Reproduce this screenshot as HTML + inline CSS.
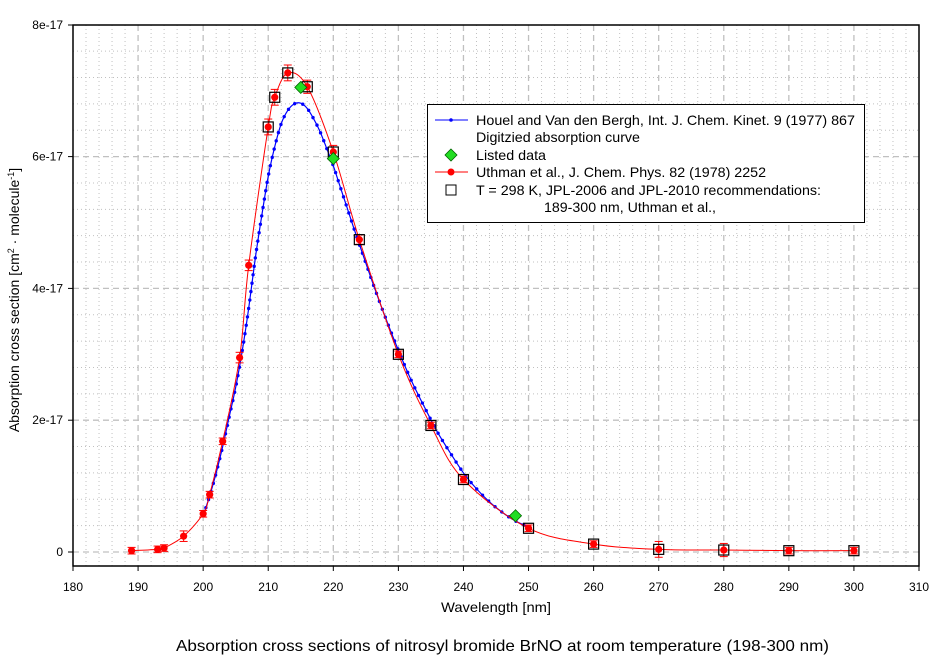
<!DOCTYPE html>
<html><head><meta charset="utf-8"><style>
html,body{margin:0;padding:0;background:#fff;}
svg{display:block;font-family:"Liberation Sans",Arial,sans-serif;}
</style></head><body>
<svg id="s" width="944" height="659" xmlns="http://www.w3.org/2000/svg">
<rect width="944" height="659" fill="#fff"/>
<g id="grid"></g>
<g id="data"></g>
<rect x="73" y="25" width="846" height="541" fill="none" stroke="#000" stroke-width="1.5"/>
<g id="ticks" font-size="12"></g>
<text x="441" y="612" font-size="14" textLength="110" lengthAdjust="spacingAndGlyphs">Wavelength [nm]</text>
<text transform="translate(19,300) rotate(-90)" font-size="14" text-anchor="middle">Absorption cross section [cm<tspan dy="-5" font-size="9">2</tspan><tspan dy="5"> · molecule</tspan><tspan dy="-5" font-size="9">-1</tspan><tspan dy="5">]</tspan></text>
<text x="176" y="651" font-size="16" textLength="653" lengthAdjust="spacingAndGlyphs">Absorption cross sections of nitrosyl bromide BrNO at room temperature (198-300 nm)</text>
<g font-size="14">
<rect x="427.5" y="104.5" width="437" height="118" fill="#fff" stroke="#000" stroke-width="1"/>
<line x1="435" y1="120" x2="468" y2="120" stroke="#0000ff"/><circle cx="451" cy="120" r="1.8" fill="#0000ff"/>
<text x="476" y="125" textLength="379" lengthAdjust="spacingAndGlyphs">Houel and Van den Bergh, Int. J. Chem. Kinet. 9 (1977) 867</text>
<text x="476" y="142" textLength="164" lengthAdjust="spacingAndGlyphs">Digitzied absorption curve</text>
<polygon points="451,149 457,155 451,161 445,155" fill="#22dd22" stroke="#006600" stroke-width="0.8"/>
<text x="476" y="160" textLength="70" lengthAdjust="spacingAndGlyphs">Listed data</text>
<line x1="435" y1="172" x2="468" y2="172" stroke="#ff0000"/><circle cx="451" cy="172" r="3.5" fill="#ff0000"/>
<text x="476" y="177" textLength="290" lengthAdjust="spacingAndGlyphs">Uthman et al., J. Chem. Phys. 82 (1978) 2252</text>
<rect x="446" y="185" width="10" height="10" fill="none" stroke="#000"/>
<text x="476" y="195" textLength="345" lengthAdjust="spacingAndGlyphs">T = 298 K, JPL-2006 and JPL-2010 recommendations:</text>
<text x="544" y="212" textLength="172" lengthAdjust="spacingAndGlyphs">189-300 nm, Uthman et al.,</text>
</g>
</svg>
<script>
var NS="http://www.w3.org/2000/svg";
function X(w){return 73+(w-180)*846/130;}
function Y(v){return 552-v*65.9;}
function el(p,t,a,txt){var e=document.createElementNS(NS,t);for(var k in a)e.setAttribute(k,a[k]);if(txt!=null)e.textContent=txt;p.appendChild(e);return e;}
var g=document.getElementById('grid'),tk=document.getElementById('ticks'),d=document.getElementById('data');
for(var w=182;w<310;w+=2){var maj=(w%10==0);el(g,'line',{x1:X(w),x2:X(w),y1:25,y2:566,stroke:'#c0c0c0','stroke-width':maj?1.3:1,'stroke-dasharray':maj?'6,4':'1,3'});}
for(var i=1;i<21;i++){var v=i*0.4;var y=Y(v);if(y<=25)continue;var maj=(i%5==0);el(g,'line',{x1:73,x2:919,y1:y,y2:y,stroke:'#c0c0c0','stroke-width':maj?1.3:1,'stroke-dasharray':maj?'6,4':'1,3'});}
el(g,'line',{x1:73,x2:919,y1:552,y2:552,stroke:'#c0c0c0','stroke-width':1.3,'stroke-dasharray':'6,4'});
for(var w=180;w<=310;w+=10){el(tk,'line',{x1:X(w),x2:X(w),y1:566,y2:571,stroke:'#000'});el(tk,'text',{x:X(w),y:591,'text-anchor':'middle'},String(w));}
var yl=['0','2e-17','4e-17','6e-17','8e-17'];
for(var i=0;i<5;i++){var y=Y(i*2);if(i==4)y=25;el(tk,'line',{x1:68,x2:73,y1:y,y2:y,stroke:'#000'});el(tk,'text',{x:63,y:y+4,'text-anchor':'end'},yl[i]);}
function spline(pts){var s='M'+pts[0][0]+','+pts[0][1];for(var i=0;i<pts.length-1;i++){var p0=pts[Math.max(0,i-1)],p1=pts[i],p2=pts[i+1],p3=pts[Math.min(pts.length-1,i+2)];
s+=' C'+(p1[0]+(p2[0]-p0[0])/6)+','+(p1[1]+(p2[1]-p0[1])/6)+' '+(p2[0]-(p3[0]-p1[0])/6)+','+(p2[1]-(p3[1]-p1[1])/6)+' '+p2[0]+','+p2[1];}return s;}
var B=[[200,0.55],[201,0.85],[202,1.2],[203,1.6],[204,2.05],[205,2.5],[206,3.05],[207,3.7],[208,4.45],[209,5.1],[210,5.7],[211,6.15],[212,6.5],[213,6.7],[214,6.8],[215,6.81],[216,6.73],[217,6.57],[218,6.37],[219,6.12],[220,5.86],[221,5.56],[222,5.26],[223,4.96],[224,4.67],[226,4.1],[228,3.56],[230,3.06],[232,2.6],[234,2.2],[236,1.82],[238,1.5],[240,1.2],[242,0.96],[244,0.76],[246,0.6],[248,0.47],[250,0.38]];
var bp=B.map(function(p){return [X(p[0]),Y(p[1])];});
var bpath=el(d,'path',{d:spline(bp),fill:'none',stroke:'#0000ff','stroke-width':1.2});
var L=bpath.getTotalLength();for(var l=0;l<=L;l+=8.5){var pt=bpath.getPointAtLength(l);el(d,'circle',{cx:pt.x,cy:pt.y,r:1.7,fill:'#0000ff'});}
var R=[[189,0.02],[193,0.04],[194,0.06],[197,0.24],[200,0.58],[201,0.87],[203,1.68],[205.6,2.95],[207,4.35],[210,6.45],[211,6.9],[213,7.27],[216,7.06],[220,6.07],[224,4.74],[230,3.0],[235,1.92],[240,1.1],[250,0.36],[260,0.12],[270,0.04],[280,0.03],[290,0.02],[300,0.02]];
var rp=R.map(function(p){return [X(p[0]),Y(p[1])];});
el(d,'path',{d:spline(rp),fill:'none',stroke:'#ff0000','stroke-width':1});
var err={210:0.12,211:0.12,213:0.12,216:0.1,220:0.1,224:0.07,270:0.12,280:0.1,197:0.08,205.6:0.08,207:0.08};
R.forEach(function(p){var x=X(p[0]),y=Y(p[1]);var e=err[p[0]]||0.05;var h=e*65.9;
el(d,'line',{x1:x,x2:x,y1:y-h,y2:y+h,stroke:'#ff0000'});el(d,'line',{x1:x-4,x2:x+4,y1:y-h,y2:y-h,stroke:'#ff0000'});el(d,'line',{x1:x-4,x2:x+4,y1:y+h,y2:y+h,stroke:'#ff0000'});
el(d,'circle',{cx:x,cy:y,r:3.6,fill:'#ff0000'});
if(p[0]>=210){el(d,'rect',{x:x-5,y:y-5,width:10,height:10,fill:'none',stroke:'#000','stroke-width':1.2});}});
[[215,7.05],[220,5.97],[248,0.55]].forEach(function(p){var x=X(p[0]),y=Y(p[1]);el(d,'polygon',{points:(x)+','+(y-6)+' '+(x+6)+','+y+' '+x+','+(y+6)+' '+(x-6)+','+y,fill:'#22dd22',stroke:'#006600','stroke-width':0.8});});
</script>
</body></html>
